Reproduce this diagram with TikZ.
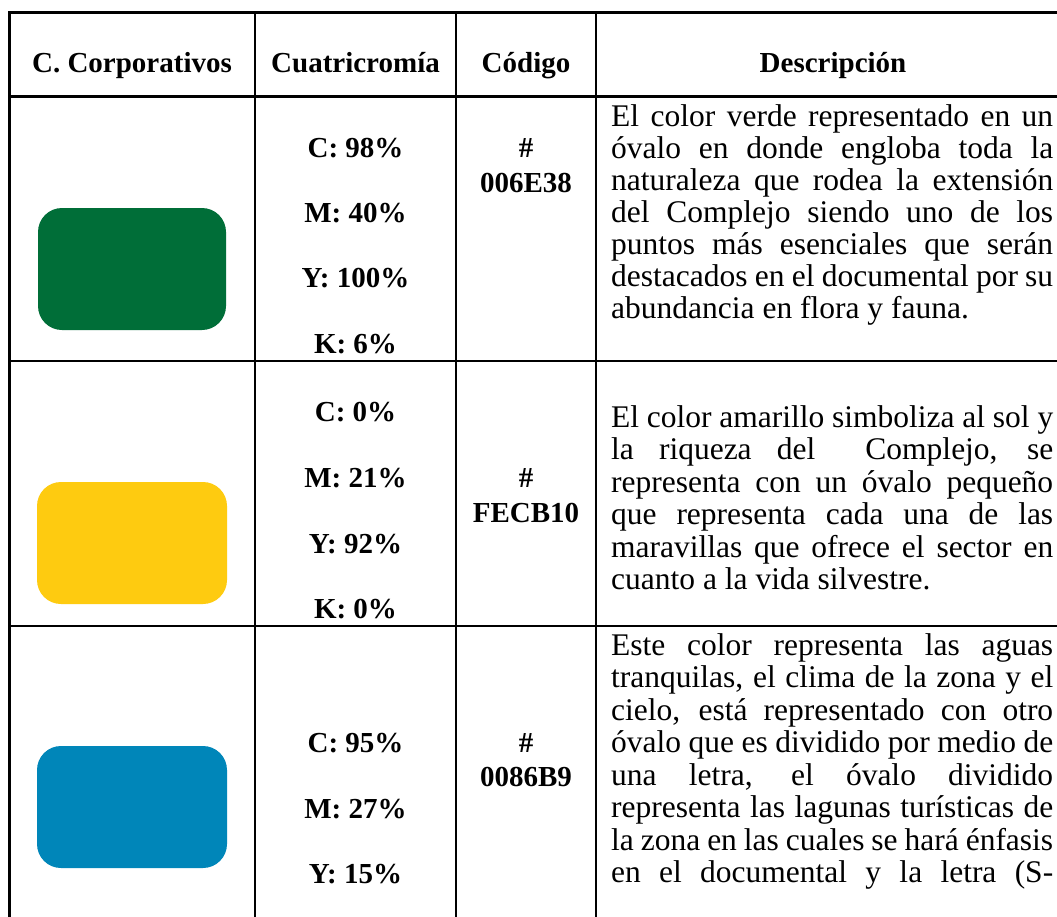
\documentclass[tikz,border=0pt]{standalone}
\usepackage{fontspec}
\setmainfont{Liberation Serif}
\newfontfamily\bodyfam{Liberation Serif}
\newcommand\headfont{\fontsize{29}{33}\selectfont\bfseries}
\newcommand\cellbf{\fontsize{29}{32}\selectfont\bfseries}
\newcommand\bodyfont{\bodyfam\fontsize{31.5}{32}\selectfont}
\newcommand\jline[1]{\makebox[442pt][s]{#1}}
\definecolor{cgreen}{HTML}{006E38}
\definecolor{cyellow}{HTML}{FECB10}
\definecolor{cblue}{HTML}{0086B9}
\tikzset{
  hdr/.style={anchor=base, inner sep=0pt, font=\headfont},
  cmyk/.style={anchor=base, inner sep=0pt, font=\cellbf},
  desc/.style={anchor=base west, inner sep=0pt, font=\bodyfont},
  swatch/.style={rounded corners=24pt},
  gridrule/.style={line width=2.6pt, black}
}
\begin{document}
\begin{tikzpicture}[x=1pt, y=-1pt]
\useasboundingbox (0,0) rectangle (1057,916);
\fill[white] (0,0) rectangle (1057,916);
% grid
\draw[gridrule] (1070,12.7) -- (9.3,12.7) -- (9.3,930);
\draw[gridrule] (9.3,96.7) -- (1070,96.7);
\draw[gridrule] (9.3,361) -- (1070,361);
\draw[gridrule] (9.3,626) -- (1070,626);
\draw[gridrule] (255,12.7) -- (255,930);
\draw[gridrule] (456,12.7) -- (456,930);
\draw[gridrule] (596,12.7) -- (596,930);
% header
\node[hdr] (h1) at (132,72.7) {C. Corporativos};
\node[hdr] (h2) at (355.5,72.7) {Cuatricromía};
\node[hdr] (h3) at (526,72.7) {Código};
\node[hdr] (h4) at (833,72.7) {Descripción};
% swatches
\fill[swatch, cgreen] (38,208) rectangle (226,330);
\fill[swatch, cyellow] (37,482) rectangle (227,604);
\fill[swatch, cblue] (37,746) rectangle (227,868);
% row 1 CMYK
\node[cmyk] (r1c) at (355.5,157) {C: 98\%};
\node[cmyk] (r1m) at (355.5,222) {M: 40\%};
\node[cmyk] (r1y) at (355.5,287) {Y: 100\%};
\node[cmyk] (r1k) at (355.5,353) {K: 6\%};
\node[cmyk] (r1h) at (526,157) {\#};
\node[cmyk] (r1code) at (526,192) {006E38};
% row 2 CMYK
\node[cmyk] (r2c) at (355.5,421) {C: 0\%};
\node[cmyk] (r2m) at (355.5,487) {M: 21\%};
\node[cmyk] (r2y) at (355.5,553) {Y: 92\%};
\node[cmyk] (r2k) at (355.5,618) {K: 0\%};
\node[cmyk] (r2h) at (526,487) {\#};
\node[cmyk] (r2code) at (526,522) {FECB10};
% row 3 CMYK
\node[cmyk] (r3c) at (355.5,752) {C: 95\%};
\node[cmyk] (r3m) at (355.5,818) {M: 27\%};
\node[cmyk] (r3y) at (355.5,883) {Y: 15\%};
\node[cmyk] (r3h) at (526,752) {\#};
\node[cmyk] (r3code) at (526,786) {0086B9};
% row 1 description
\node[desc] (d1a) at (611,126) {\jline{El color verde representado en un}};
\node[desc] (d1b) at (611,158) {\jline{óvalo en donde engloba toda la}};
\node[desc] (d1c) at (611,190) {\jline{naturaleza que rodea la extensión}};
\node[desc] (d1d) at (611,222) {\jline{del Complejo siendo uno de los}};
\node[desc] (d1e) at (611,254) {\jline{puntos más esenciales que serán}};
\node[desc] (d1f) at (611,286) {\jline{destacados en el documental por su}};
\node[desc] (d1g) at (611,318) {abundancia en flora y fauna.};
% row 2 description
\node[desc] (d2a) at (611,427) {\jline{El color amarillo simboliza al sol y}};
\node[desc] (d2b) at (611,459.5) {\jline{la riqueza del\ \ Complejo, se}};
\node[desc] (d2c) at (611,492) {\jline{representa con un óvalo pequeño}};
\node[desc] (d2d) at (611,524.5) {\jline{que representa cada una de las}};
\node[desc] (d2e) at (611,557) {\jline{maravillas que ofrece el sector en}};
\node[desc] (d2f) at (611,589.5) {cuanto a la vida silvestre.};
% row 3 description
\node[desc] (d3a) at (611,655) {\jline{Este color representa las aguas}};
\node[desc] (d3b) at (611,687.5) {\jline{tranquilas, el clima de la zona y el}};
\node[desc] (d3c) at (611,720) {\jline{cielo, está representado con otro}};
\node[desc] (d3d) at (611,752.5) {\jline{óvalo que es dividido por medio de}};
\node[desc] (d3e) at (611,785) {\jline{una letra, el óvalo dividido}};
\node[desc] (d3f) at (611,817.5) {\jline{representa las lagunas turísticas de}};
\node[desc] (d3g) at (611,850) {\jline{la zona en las cuales se hará énfasis}};
\node[desc] (d3h) at (611,882.5) {\jline{en el documental y la letra (S-}};
\end{tikzpicture}
\end{document}
